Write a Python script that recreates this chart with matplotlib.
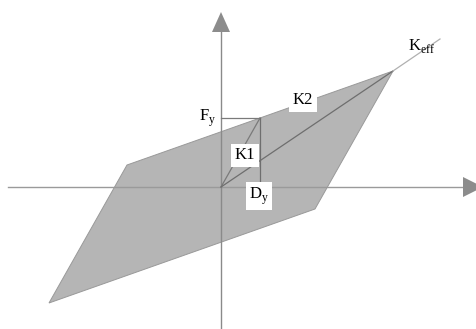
import matplotlib
matplotlib.use("Agg")
import matplotlib.pyplot as plt
from matplotlib.patches import Polygon

plt.rcParams['font.family'] = ['Liberation Serif', 'DejaVu Serif']
plt.rcParams['mathtext.fontset'] = 'custom'
plt.rcParams['mathtext.rm'] = 'Liberation Serif'

# bilinear hysteresis loop (displacement, force), arbitrary units
loop_d = [-172, -94, 39, 172, 94]
loop_f = [-116, 22, 69, 116, -22]

# yield point and peak point
d_y, f_y = 39, 69
d_max, f_max = 172, 116

# end of the Keff secant line
keff_d, keff_f = 219, 148

fig = plt.figure(figsize=(4.77, 3.29), dpi=100)
ax = fig.add_axes([0, 0, 1, 1])
ax.set_xlim(-221, 256)
ax.set_ylim(-142, 187)
ax.axis('off')

# loop
ax.add_patch(Polygon(list(zip(loop_d, loop_f)), closed=True,
                     facecolor='#b5b5b5', edgecolor='#999999', lw=0.7, zorder=1))

# axes with arrow heads
ax.plot([-213, 242], [0, 0], color='#9a9a9a', lw=1.0, zorder=2)
ax.plot([0, 0], [-142, 155], color='#8a8a8a', lw=1.0, zorder=2)
ax.add_patch(Polygon([(242, 10), (242, -10), (262, 0)], closed=True,
                     facecolor='#8c8c8c', edgecolor='none', zorder=3))
ax.add_patch(Polygon([(-9, 155), (9, 155), (0, 175)], closed=True,
                     facecolor='#8c8c8c', edgecolor='none', zorder=3))

# K1, Keff and yield guide lines
ax.plot([0, d_y], [0, f_y], color='#7a7a7a', lw=0.9, zorder=2)
ax.plot([0, d_max], [0, f_max], color='#6e6e6e', lw=0.9, zorder=2)
ax.plot([d_max, keff_d], [f_max, keff_f], color='#b0b0b0', lw=0.9, zorder=2)
ax.plot([0, d_y], [f_y, f_y], color='#7a7a7a', lw=0.9, zorder=2)
ax.plot([d_y, d_y], [f_y, 0], color='#6e6e6e', lw=0.9, zorder=2)

box = dict(facecolor='white', edgecolor='none', pad=2.5)
ax.text(24, 32, 'K1', fontsize=12, ha='center', va='center', bbox=box, zorder=4)
ax.text(82, 87, 'K2', fontsize=12, ha='center', va='center', bbox=box, zorder=4)
ax.text(38, -9, r'D$_\mathrm{y}$', fontsize=12, ha='center', va='center', bbox=box, zorder=4)
ax.text(-5, 69, r'F$_\mathrm{y}$', fontsize=12, ha='right', va='center', zorder=4)
ax.text(201, 141, r'K$_\mathrm{eff}$', fontsize=12, ha='center', va='center', zorder=4)

fig.savefig('out.png', dpi=100)
